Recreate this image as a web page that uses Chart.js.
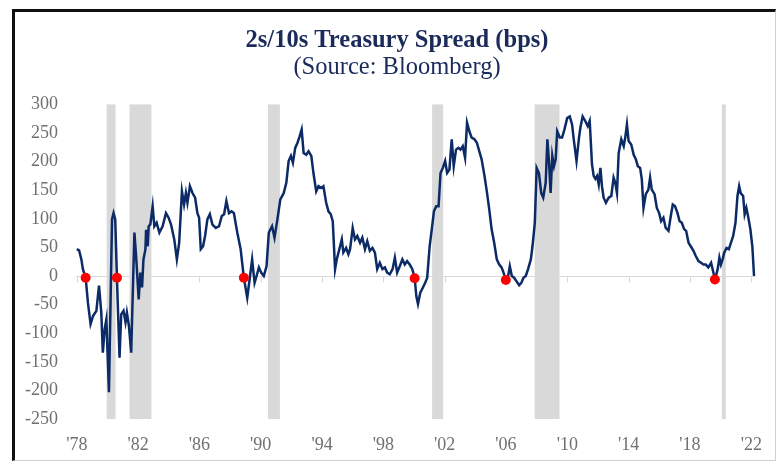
<!DOCTYPE html>
<html>
<head>
<meta charset="utf-8">
<script src="https://cdn.jsdelivr.net/npm/chart.js@4"></script>
<style>
  html, body { margin: 0; padding: 0; background: #fff; }
  #wrap { position: relative; width: 777px; height: 465px; }
  #frame {
    position: absolute; left: 12px; top: 9px; width: 764px; height: 452px;
    box-sizing: border-box; pointer-events: none;
    border-top: 3px solid #111; border-left: 3px solid #111;
    border-right: 1px solid #d0d0d0; border-bottom: 1px solid #d0d0d0;
  }
</style>
</head>
<body>
<div id="wrap">
  <canvas id="chart" width="777" height="465"></canvas>
  <div id="frame"></div>
</div>
<script>
// ======= data: 2s/10s spread (bps) =======
const years = [
  1978.00,1978.15,1978.30,1978.40,1978.58,1978.73,1978.90,1979.06,1979.28,1979.45,1979.60,1979.70,1979.82,1979.93,1980.10,1980.30,1980.40,1980.51,1980.62,1980.79,
  1980.90,1981.05,1981.18,1981.27,1981.40,1981.55,1981.76,1981.87,1982.04,1982.15,1982.26,1982.35,1982.48,1982.52,1982.63,1982.69,1982.80,1982.95,1983.06,1983.21,
  1983.39,1983.60,1983.82,1983.99,1984.15,1984.36,1984.53,1984.68,1984.86,1985.00,1985.12,1985.22,1985.38,1985.55,1985.72,1985.87,1985.98,1986.09,1986.24,1986.37,
  1986.52,1986.68,1986.85,1987.07,1987.28,1987.46,1987.61,1987.76,1987.93,1988.10,1988.25,1988.47,1988.69,1988.90,1989.12,1989.29,1989.44,1989.60,1989.73,1989.88,
  1990.03,1990.20,1990.38,1990.53,1990.74,1990.90,1991.07,1991.28,1991.50,1991.67,1991.82,1991.97,1992.10,1992.25,1992.40,1992.54,1992.67,1992.80,1992.97,1993.12,
  1993.30,1993.44,1993.62,1993.77,1993.94,1994.09,1994.27,1994.42,1994.57,1994.70,1994.85,1994.96,1995.13,1995.29,1995.39,1995.57,1995.72,1995.83,1996.00,1996.15,
  1996.30,1996.48,1996.63,1996.80,1996.95,1997.12,1997.29,1997.45,1997.60,1997.77,1997.94,1998.10,1998.25,1998.42,1998.60,1998.75,1998.90,1999.07,1999.24,1999.40,
  1999.55,1999.72,1999.89,2000.04,2000.15,2000.26,2000.41,2000.58,2000.73,2000.86,2001.02,2001.17,2001.30,2001.45,2001.60,2001.73,2001.88,2002.03,2002.16,2002.31,
  2002.46,2002.59,2002.74,2002.90,2003.03,2003.18,2003.33,2003.46,2003.61,2003.76,2003.94,2004.10,2004.26,2004.41,2004.58,2004.75,2004.91,2005.06,2005.23,2005.40,
  2005.56,2005.71,2005.84,2005.99,2006.14,2006.25,2006.38,2006.53,2006.68,2006.86,2007.00,2007.14,2007.29,2007.44,2007.62,2007.73,2007.88,2008.00,2008.15,2008.30,
  2008.43,2008.59,2008.70,2008.81,2008.91,2009.02,2009.13,2009.24,2009.34,2009.51,2009.66,2009.81,2009.99,2010.16,2010.31,2010.42,2010.60,2010.75,2010.85,2011.00,
  2011.17,2011.33,2011.46,2011.61,2011.72,2011.83,2011.94,2012.05,2012.16,2012.26,2012.37,2012.52,2012.70,2012.87,2013.02,2013.13,2013.24,2013.35,2013.52,2013.68,
  2013.78,2013.89,2014.00,2014.17,2014.33,2014.47,2014.60,2014.75,2014.86,2014.97,2015.12,2015.29,2015.40,2015.51,2015.69,2015.84,2015.99,2016.12,2016.27,2016.42,
  2016.60,2016.75,2016.88,2017.03,2017.19,2017.32,2017.47,2017.62,2017.75,2017.91,2018.05,2018.23,2018.38,2018.56,2018.72,2018.88,2019.03,2019.20,2019.38,2019.53,
  2019.63,2019.81,2019.92,2020.02,2020.13,2020.24,2020.39,2020.54,2020.67,2020.82,2020.97,2021.10,2021.21,2021.31,2021.47,2021.57,2021.68,2021.79,2021.94,2022.07,
  2022.18
];
const spread = [
  47,45,29,12,-3,-47,-84,-70,-61,-17,-64,-134,-93,-76,-203,99,110,99,-3,-143,
  -67,-61,-81,-64,-87,-134,76,35,-41,6,-20,29,47,81,52,87,90,122,87,93,
  76,87,110,102,90,64,29,58,148,125,145,128,157,145,137,110,102,47,52,70,
  99,108,90,84,87,105,108,131,110,113,110,76,47,-3,-38,-3,29,-12,0,15,
  6,0,17,76,87,67,96,134,145,163,201,210,198,224,233,244,256,215,212,218,
  210,180,148,157,154,157,128,113,108,96,12,29,47,64,41,49,38,47,84,64,
  70,58,67,47,61,44,49,41,12,23,12,15,6,3,12,32,6,17,29,20,
  26,20,12,-3,-35,-49,-29,-20,-12,-3,52,84,113,122,122,180,189,201,180,186,
  239,192,221,224,221,227,207,268,253,242,239,233,218,204,178,148,116,82,58,29,
  20,15,6,-7,0,17,0,-3,-9,-16,-12,-3,0,12,29,52,93,189,180,145,
  137,163,239,198,145,210,192,204,253,242,242,256,276,279,265,239,201,239,259,279,
  271,262,271,195,175,170,175,160,189,157,137,128,137,140,172,163,145,215,239,227,
  242,265,236,230,212,204,192,189,169,119,143,151,172,151,143,119,110,96,102,84,
  79,105,125,122,110,96,93,82,79,58,52,44,35,26,23,20,20,15,23,6,
  -6,12,32,20,29,41,49,47,58,70,93,140,157,145,140,108,119,105,82,52,
  0
];

// red markers where the curve inverts
const invYears = [1978.58, 1980.62, 1988.90, 2000.04, 2005.99, 2019.63];
const invValues = [-3, -3, -3, -4, -7, -6];

// recessions (shaded)
const recStart = [1979.95, 1981.44, 1990.47, 2001.18, 2007.87, 2020.08];
const recEnd   = [1980.53, 1982.87, 1991.25, 2001.90, 2009.49, 2020.34];

const tickYears = [1978, 1982, 1986, 1990, 1994, 1998, 2002, 2006, 2010, 2014, 2018, 2022];
const yMin = -250, yMax = 300, yStep = 50;

const NAVY = '#0b2a66';
const SERIF = '"Liberation Serif", "DejaVu Serif", serif';

// grey bars + zero line with little ticks
const backdrop = {
  id: 'backdrop',
  beforeDatasetsDraw(chart) {
    const { ctx, chartArea, scales } = chart;
    const x = scales.x, y = scales.y;
    ctx.save();
    ctx.fillStyle = '#d9d9d9';
    for (let i = 0; i < recStart.length; i++) {
      const x1 = x.getPixelForValue(recStart[i]);
      const x2 = x.getPixelForValue(recEnd[i]);
      ctx.fillRect(x1, chartArea.top, x2 - x1, chartArea.bottom - chartArea.top);
    }
    const y0 = Math.round(y.getPixelForValue(0)) + 0.5;
    ctx.strokeStyle = '#d9d9d9';
    ctx.lineWidth = 1;
    ctx.beginPath();
    ctx.moveTo(chartArea.left, y0);
    ctx.lineTo(chartArea.right, y0);
    tickYears.forEach(t => {
      const px = Math.round(x.getPixelForValue(t)) + 0.5;
      ctx.moveTo(px, y0);
      ctx.lineTo(px, y0 + 6);
    });
    ctx.stroke();
    ctx.restore();
  }
};

new Chart(document.getElementById('chart'), {
  type: 'scatter',
  data: {
    datasets: [
      {
        label: 'Inversions',
        data: invYears.map((v, i) => ({ x: v, y: invValues[i] })),
        backgroundColor: '#ff0000',
        borderColor: '#ff0000',
        pointRadius: 5,
        pointBorderWidth: 0
      },
      {
        label: '2s/10s',
        data: years.map((v, i) => ({ x: v, y: spread[i] })),
        showLine: true,
        borderColor: NAVY,
        borderWidth: 2.5,
        pointRadius: 0,
        tension: 0
      }
    ]
  },
  plugins: [backdrop],
  options: {
    responsive: false,
    animation: false,
    layout: { padding: { left: 34, right: 17, top: 0, bottom: 0 } },
    plugins: {
      legend: { display: false },
      tooltip: { enabled: false },
      title: {
        display: true,
        text: '2s/10s Treasury Spread (bps)',
        color: '#1a2a5a',
        font: { family: SERIF, size: 24.5, weight: 'bold', lineHeight: 1.1 },
        padding: { top: 27, bottom: 0 }
      },
      subtitle: {
        display: true,
        text: '(Source: Bloomberg)',
        color: '#1a2a5a',
        font: { family: SERIF, size: 24.5, lineHeight: 1.1 },
        padding: { top: 0, bottom: 23.5 }
      }
    },
    scales: {
      x: {
        type: 'linear',
        min: 1977.95,
        max: 2022.3,
        afterBuildTicks: s => { s.ticks = tickYears.map(v => ({ value: v })); },
        afterFit: s => { s.height = 46; },
        grid: { display: false, drawTicks: false },
        border: { display: false },
        ticks: {
          color: '#707070',
          font: { family: SERIF, size: 18 },
          padding: 15,
          maxRotation: 0,
          autoSkip: false,
          callback: v => "'" + String(v).slice(2)
        }
      },
      y: {
        min: yMin,
        max: yMax,
        afterFit: s => {
          s.width = 42;
          // labels reach left of the narrow axis box, so no clipping
          s._computeLabelArea = () => undefined;
        },
        grid: { display: false, drawTicks: false },
        border: { display: false },
        ticks: {
          stepSize: yStep,
          color: '#707070',
          font: { family: SERIF, size: 18 },
          padding: 18
        }
      }
    }
  }
});
</script>
</body>
</html>
